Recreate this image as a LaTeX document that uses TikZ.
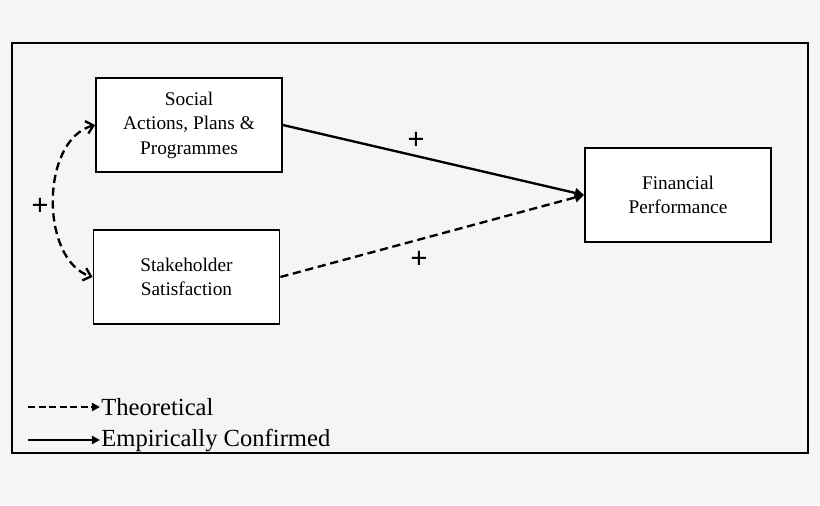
\documentclass[tikz,border=0pt]{standalone}
\usepackage{fontspec}
\setmainfont{Liberation Serif}
\usetikzlibrary{arrows.meta}
\tikzstyle{bx}=[draw=black,line width=1.5pt,fill=white,minimum width=5.58cm,minimum height=2.82cm,align=center,inner sep=1pt,font=\fontsize{16.5}{21}\selectfont]
\tikzstyle{pl}=[font=\fontsize{26}{26}\selectfont\bfseries]
\tikzstyle{lg}=[font=\fontsize{21}{22}\selectfont,anchor=west,inner sep=1pt]
\begin{document}
\begin{tikzpicture}[x=0.03cm,y=-0.03cm]
\fill[white!96!black] (0,0) rectangle (820,505);
\useasboundingbox (0,0) rectangle (820,505);
\draw[line width=1.5pt] (12,43) rectangle (808,453);
\node[bx] (soc) at (189,125) {Social\\Actions, Plans \&\\Programmes};
\node[bx] (stk) at (186.5,277) {Stakeholder\\Satisfaction};
\node[bx] (fin) at (678,195) {Financial\\Performance};
% paths
\draw[line width=2pt,-{Triangle[length=8pt,width=8pt]}] (soc.east) -- (fin.west);
\draw[line width=2pt,dash pattern=on 7pt off 4pt,-{Triangle[length=8pt,width=8pt]}] (stk.east) -- (fin.west);
\draw[line width=2pt,dash pattern=on 7pt off 4pt,{Straight Barb[length=6pt,width=11pt]}-{Straight Barb[length=6pt,width=11pt]}]
  (soc.west) .. controls (40,140) and (40,260) .. (stk.west);
\node[pl] (p1) at (416,141) {+};
\node[pl] (p2) at (419,260) {+};
\node[pl] (p3) at (40,207) {+};
% legend
\coordinate (t1) at (28,407); \coordinate (t2) at (100,407);
\coordinate (e1) at (28,440); \coordinate (e2) at (100,440);
\draw[line width=2pt,dash pattern=on 6pt off 3pt,-{Triangle[length=7pt,width=7pt]}] (t1) -- (t2);
\draw[line width=2pt,-{Triangle[length=7pt,width=7pt]}] (e1) -- (e2);
\node[lg] (th) at (t2) {Theoretical};
\node[lg] (em) at (e2) {Empirically Confirmed};
\end{tikzpicture}
\end{document}
